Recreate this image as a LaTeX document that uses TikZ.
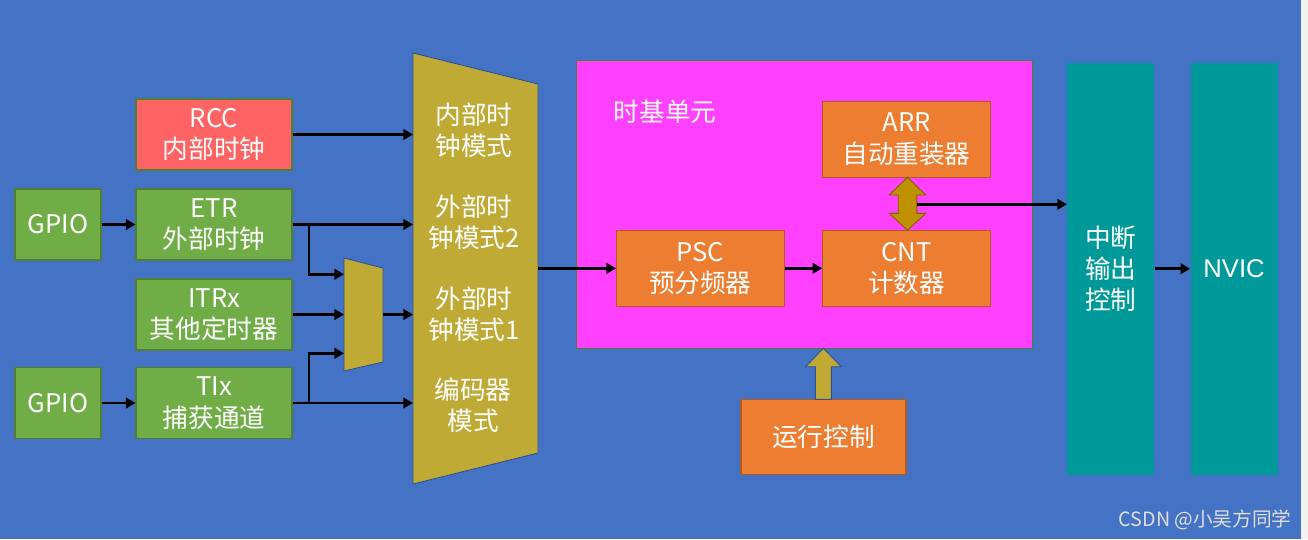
\documentclass[tikz,border=0pt]{standalone}
\usepackage{fontspec}
\setmainfont{Noto Sans CJK SC}
\newfontfamily\arialfont{Liberation Sans}
\usetikzlibrary{arrows.meta}
\definecolor{bgblue}{HTML}{4472C4}
\definecolor{grn}{HTML}{70AD47}
\definecolor{grnline}{HTML}{507E32}
\definecolor{rccred}{HTML}{FF6363}
\definecolor{gold}{HTML}{BFAA36}
\definecolor{goldline}{HTML}{2F528F}
\definecolor{mag}{HTML}{FF40FF}
\definecolor{orng}{HTML}{ED7D31}
\definecolor{orngline}{HTML}{AE5A21}
\definecolor{dgold}{HTML}{BF9000}
\definecolor{dgoldline}{HTML}{7F6000}
\definecolor{teal}{HTML}{009999}
\definecolor{strip}{HTML}{F2F2F2}

\begin{document}
\begin{tikzpicture}[x=0.02cm, y=-0.02cm,
    >={Triangle[length=5.5pt, width=6pt]},
    txt/.style={text=white, align=center, inner sep=0pt, font=\fontsize{14.6}{17.8}\selectfont},
    gbox/.style={txt, draw=grnline, fill=grn, line width=0.6pt, minimum width=3.12cm, minimum height=1.42cm},
    obox/.style={txt, draw=orngline, fill=orng, line width=0.6pt, minimum width=3.35cm, minimum height=1.52cm},
    tbox/.style={txt, fill=teal, minimum width=1.74cm, minimum height=8.25cm},
    sig/.style={->, line width=1.5pt}]
    \useasboundingbox (0,0) rectangle (1308,539);
    \fill[bgblue] (0,0) rectangle (1301,539);
    \fill[strip] (1301,0) rectangle (1308,539);

    % mode selectors
    \draw[fill=gold, draw=goldline, line width=0.5pt] (413,53) -- (538,84) -- (538,453) -- (413,484) -- cycle;
    \draw[fill=gold, draw=goldline, line width=0.5pt] (344,258) -- (383,268) -- (383,362) -- (344,371) -- cycle;
    \node[txt] (m1) at (474,130) {内部时\\钟模式};
    \node[txt] (m2) at (474,222) {外部时\\钟模式2};
    \node[txt] (m3) at (474,314) {外部时\\钟模式1};
    \node[txt] (m4) at (473,405) {编码器\\模式};

    \node[gbox, fill=rccred] (rcc) at (214,134.5) {RCC\\内部时钟};
    \node[gbox, minimum width=1.72cm] (gpa) at (58,224.5) {GPIO};
    \node[gbox] (etr) at (214,224.5) {ETR\\外部时钟};
    \node[gbox] (itr) at (214,314.5) {ITRx\\其他定时器};
    \node[gbox, minimum width=1.72cm] (gpb) at (58,403) {GPIO};
    \node[gbox] (tix) at (214,403) {TIx\\捕获通道};

    \coordinate (bigL) at (413,0);
    \coordinate (bigR) at (538,268.3);
    \coordinate (j1) at (309,224.5);
    \coordinate (j2) at (309,403);
    \coordinate (smA) at (344,274.3);
    \coordinate (smB) at (344,314.5);
    \coordinate (smC) at (344,353.3);
    \coordinate (smO) at (383,314.5);

    % time base unit
    \node[draw=grnline, fill=mag, line width=0.6pt, minimum width=9.126cm, minimum height=5.752cm] (tb) at (804.6,204.5) {};
    \node[txt] (tbl) at (665,112) {时基单元};
    \node[obox] (arr) at (906.5,139.3) {ARR\\自动重装器};
    \node[obox] (psc) at (700.3,268.3) {PSC\\预分频器};
    \node[obox] (cnt) at (906.5,268.3) {CNT\\计数器};
    \node[obox, minimum width=3.3cm, minimum height=1.51cm] (run) at (823.5,437.2) {运行控制};

    \draw[fill=dgold, draw=dgoldline, line width=0.5pt] (907.5,177.3) -- (925.8,195) -- (916.8,195) -- (916.8,213.3) -- (925.8,213.3)
        -- (907.5,230.3) -- (889.2,213.3) -- (898.2,213.3) -- (898.2,195) -- (889.2,195) -- cycle;
    \draw[fill=gold, draw=goldline, line width=0.5pt] (823.4,348.3) -- (841.2,366.7) -- (831.4,366.7) -- (831.4,399.3)
        -- (815.4,399.3) -- (815.4,366.7) -- (805.6,366.7) -- cycle;
    \coordinate (dbl) at (916.8,204.3);

    \node[tbox] (intr) at (1110.8,268.7) {中断\\输出\\控制};
    \node[tbox, font=\arialfont\fontsize{14.6}{17}\selectfont] (nvic) at (1234,268.7) {NVIC};

    \node[anchor=east, text=gray!25, inner sep=0pt, font=\fontsize{11.2}{13}\selectfont] (csdn) at (1292,520) {CSDN @小吴方同学};

    \path[sig]
    (rcc.east) edge (rcc.east -| bigL)
    (gpa.east) edge (etr.west)
    (etr.east) edge (etr.east -| bigL)
    (j1) edge[to path={|- (\tikztotarget)}] (smA)
    (itr.east) edge (smB)
    (smO) edge (smO -| bigL)
    (gpb.east) edge (tix.west)
    (tix.east) edge (tix.east -| bigL)
    (j2) edge[to path={|- (\tikztotarget)}] (smC)
    (bigR) edge (psc.west)
    (psc.east) edge (cnt.west)
    (dbl) edge (dbl -| intr.west)
    (intr.east) edge (nvic.west);
\end{tikzpicture}
\end{document}
